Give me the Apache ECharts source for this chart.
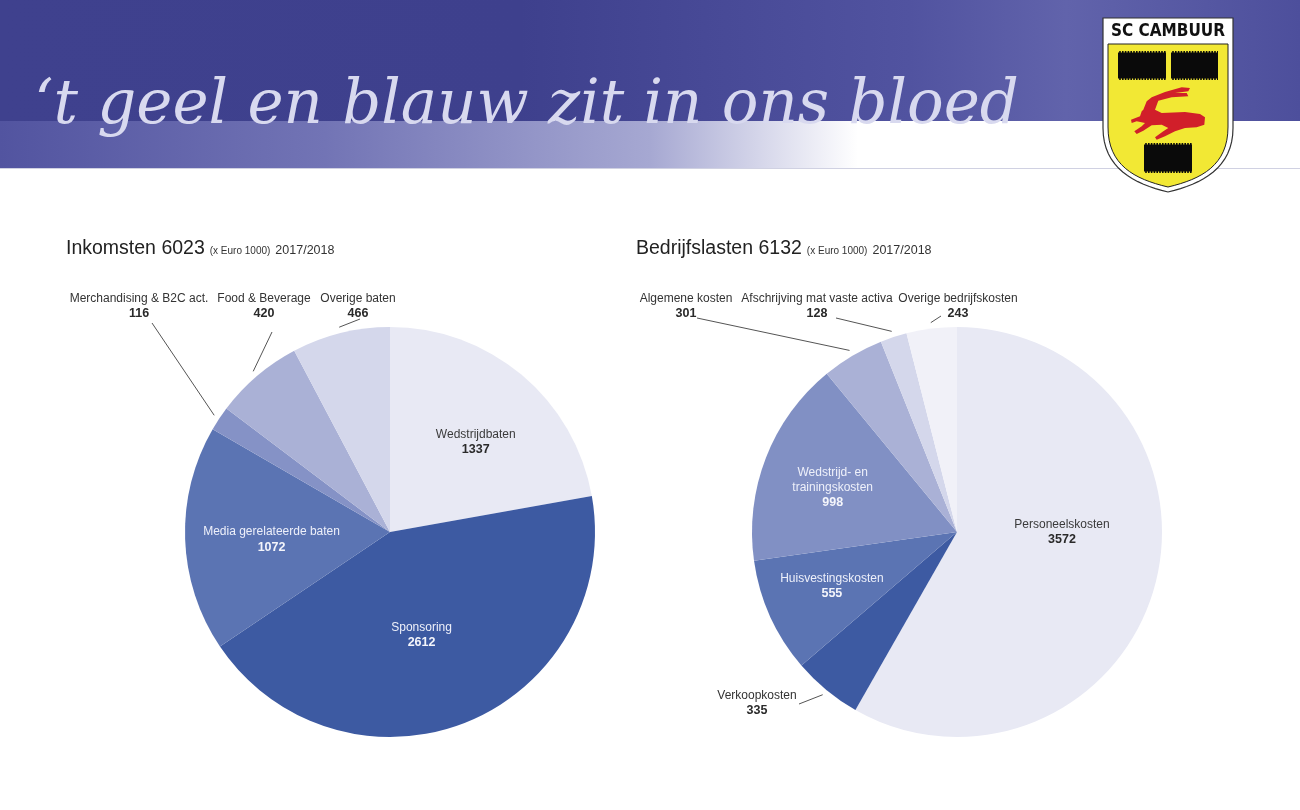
<!DOCTYPE html>
<html>
<head>
<meta charset="utf-8">
<script src="https://cdn.jsdelivr.net/npm/echarts@6/dist/echarts.min.js"></script>
<style>
html,body{margin:0;padding:0;background:#fff;}
#main{width:1300px;height:810px;}
</style>
</head>
<body>
<div id="main"></div>
<script>
// ---- data ----
const incomeNames = ['Wedstrijdbaten', 'Sponsoring', 'Media gerelateerde baten', 'Merchandising & B2C act.', 'Food & Beverage', 'Overige baten'];
const incomeValues = [1337, 2612, 1072, 116, 420, 466];
const costNames = ['Personeelskosten', 'Verkoopkosten', 'Huisvestingskosten', 'Wedstrijd- en trainingskosten', 'Algemene kosten', 'Afschrijving mat vaste activa', 'Overige bedrijfskosten'];
const costValues = [3572, 335, 555, 998, 301, 128, 243];
const incomeTitle = 'Inkomsten 6023';
const costTitle = 'Bedrijfslasten 6132';
const unitText = '(x Euro 1000)';
const yearText = '2017/2018';
const slogan = '\u2018t geel en blauw zit in ons bloed';

// ---- styles ----
const FONT = '"Liberation Sans", Arial, sans-serif';
const incomeColors = ['#E8E9F4', '#3D5AA2', '#5B74B3', '#8592C6', '#AAB1D6', '#D4D7EB'];
const costColors = ['#E8E9F4', '#3D5AA2', '#5B74B3', '#8190C4', '#AAB1D6', '#D4D7EB', '#F1F1F8'];
const incomeLabelColors = ['#3a3a3a', '#EEF0FA', '#EEF0FA', '#333', '#333', '#333'];
const costLabelColors = ['#3a3a3a', '#333', '#EEF0FA', '#EEF0FA', '#333', '#333', '#333'];
const incomeOutside = [false, false, false, true, true, true];
const costOutside = [false, true, false, false, true, true, true];

const C1 = [390, 532], C2 = [957, 532], R = 205;
const incomeOuterPos = {
  3: {x: 139, y: 291, end: [152, 323]},
  4: {x: 264, y: 291, end: [272, 332]},
  5: {x: 358, y: 291, end: [360, 319]}
};
const incomeInnerShift = {0: [18, -9], 1: [-8, 5], 2: [-13, 4]};
const costOuterPos = {
  1: {x: 757, y: 688, end: [799, 704]},
  4: {x: 686, y: 291, end: [697, 318]},
  5: {x: 817, y: 291, end: [836, 318]},
  6: {x: 958, y: 291, end: [941, 316]}
};
const costInnerShift = {0: [3, -27], 2: [-29, 11], 3: [-26, -6]};

function fmt(p) {
  const parts = p.name.replace('- en ', '- en\n').split('\n');
  return parts.map(s => '{n|' + s + '}').join('\n') + '\n{v|' + p.value + '}';
}
function makeData(names, values, colors, labelColors, outside) {
  return names.map((n, i) => {
    const dark = labelColors[i] === '#333' || labelColors[i] === '#3a3a3a';
    return {
      name: n,
      value: values[i],
      itemStyle: {color: colors[i]},
      label: {
        position: outside[i] ? 'outside' : 'inside',
        rich: {
          n: {fontSize: 12, color: labelColors[i], fontFamily: FONT, lineHeight: 15},
          v: {fontSize: 12.5, fontWeight: 'bold', color: dark ? '#2a2a2a' : '#F4F5FB', fontFamily: FONT, lineHeight: 15}
        }
      },
      labelLine: {show: outside[i]}
    };
  });
}
function layoutFn(posMap, shiftMap, center) {
  return function (params) {
    const p = posMap[params.dataIndex];
    if (!p) {
      const s = shiftMap[params.dataIndex];
      return s ? {dx: s[0], dy: s[1]} : {};
    }
    const pts = params.labelLinePoints;
    let start = pts ? pts[0] : p.end;
    const dx = start[0] - center[0], dy = start[1] - center[1];
    const d = Math.sqrt(dx * dx + dy * dy) || 1;
    start = [center[0] + dx / d * (R + 6), center[1] + dy / d * (R + 6)];
    return {x: p.x, y: p.y, align: 'center', verticalAlign: 'top', labelLinePoints: [start, p.end, p.end]};
  };
}

// shield outline helper (samples cubic curves into polygon points)
function shieldPts(x0, x1, yTop, ySide, yTip, k) {
  const cx = (x0 + x1) / 2, pts = [[x0, yTop], [x1, yTop], [x1, ySide]];
  const bez = (p0, p1, p2, p3, t) => {
    const u = 1 - t;
    return [u*u*u*p0[0] + 3*u*u*t*p1[0] + 3*u*t*t*p2[0] + t*t*t*p3[0],
            u*u*u*p0[1] + 3*u*u*t*p1[1] + 3*u*t*t*p2[1] + t*t*t*p3[1]];
  };
  for (let i = 1; i <= 16; i++) pts.push(bez([x1, ySide], [x1, ySide + k * 40], [cx + 34, yTip - 8], [cx, yTip], i / 16));
  for (let i = 1; i <= 16; i++) pts.push(bez([cx, yTip], [cx - 34, yTip - 8], [x0, ySide + k * 40], [x0, ySide], i / 16));
  return pts;
}
const deerPts = [[1143.3,109.7],[1146.7,101.3],[1151.7,97.3],[1165,92],[1181.7,87.3],[1190,88],[1188.3,91.3],[1175,93],[1186.7,93],[1188.3,96.3],[1171.7,97.3],[1158.3,100.7],[1155,109.7],[1161.7,113],[1185,112],[1200,114],[1205,117.3],[1204.3,124.7],[1196.7,127.3],[1185,128],[1175,131.3],[1165,136.3],[1156.7,139.7],[1155,137.3],[1163.3,131.3],[1168.3,128],[1161.7,124.7],[1151.7,125.3],[1143.3,130.7],[1136.7,134],[1134.3,131.3],[1141.7,126.3],[1145,123],[1136.7,121.3],[1131.7,123],[1131,119.7],[1140,116.3],[1141.7,111.3]];
const blocks = [[1118, 51, 48, 29], [1171, 51, 47, 29], [1144, 143, 48, 30]];

const titleRich = {
  a: {fontSize: 19.5, color: '#222', fontFamily: FONT, fontWeight: 'normal'},
  b: {fontSize: 10, color: '#333', fontFamily: FONT, fontWeight: 'normal', padding: [4, 0, 0, 0]},
  c: {fontSize: 12.5, color: '#333', fontFamily: FONT, fontWeight: 'normal', padding: [3, 0, 0, 0]}
};

const logoBlocks = [];
blocks.forEach(b => {
  logoBlocks.push({type: 'rect', z: 12, shape: {x: b[0], y: b[1], width: b[2], height: b[3]}, style: {fill: '#0a0a0a'}});
  logoBlocks.push({type: 'line', z: 13, shape: {x1: b[0], y1: b[1] + 0.8, x2: b[0] + b[2], y2: b[1] + 0.8}, style: {stroke: '#F2E834', lineWidth: 1.6, lineDash: [1.2, 1.6]}});
  logoBlocks.push({type: 'line', z: 13, shape: {x1: b[0], y1: b[1] + b[3] - 0.8, x2: b[0] + b[2], y2: b[1] + b[3] - 0.8}, style: {stroke: '#F2E834', lineWidth: 1.6, lineDash: [1.2, 1.6]}});
});

const chart = echarts.init(document.getElementById('main'));
chart.setOption({
  backgroundColor: '#ffffff',
  animation: false,
  title: [
    {text: '{a|' + incomeTitle + '} {b|' + unitText + '} {c|' + yearText + '}', left: 61, top: 234, textStyle: {fontWeight: 'normal', rich: titleRich}},
    {text: '{a|' + costTitle + '} {b|' + unitText + '} {c|' + yearText + '}', left: 631, top: 234, textStyle: {fontWeight: 'normal', rich: titleRich}}
  ],
  graphic: [
    {type: 'rect', z: -10, shape: {x: 0, y: 0, width: 1300, height: 121},
      style: {fill: new echarts.graphic.LinearGradient(0, 0, 1, 0, [
        {offset: 0, color: '#3F418E'}, {offset: 0.4, color: '#3E408D'}, {offset: 0.7, color: '#5153A0'}, {offset: 0.82, color: '#6163AB'}, {offset: 1, color: '#4D4F9C'}])}},
    {type: 'rect', z: -10, shape: {x: 0, y: 121, width: 1300, height: 47},
      style: {fill: new echarts.graphic.LinearGradient(0, 0, 1, 0, [
        {offset: 0, color: '#5254A0'}, {offset: 0.25, color: '#7274B5'}, {offset: 0.5, color: '#A6A8D2'}, {offset: 0.66, color: '#FFFFFF'}, {offset: 1, color: '#FFFFFF'}])}},
    {type: 'line', z: -9, shape: {x1: 0, y1: 168.5, x2: 1300, y2: 168.5}, style: {stroke: '#D0D1E2', lineWidth: 1}},
    {type: 'text', z: 5, x: 34, y: 138,
      style: {text: slogan, fill: '#D8D9EF', font: 'italic 61px "DejaVu Serif"', textVerticalAlign: 'bottom'}},
    {type: 'polygon', z: 10, shape: {points: shieldPts(1103, 1233, 18, 128, 192, 1)},
      style: {fill: '#FFFFFF', stroke: '#333', lineWidth: 1.2}},
    {type: 'polygon', z: 11, shape: {points: shieldPts(1108, 1228, 44, 127, 187, 0.95)},
      style: {fill: '#F2E834', stroke: '#222', lineWidth: 1}},
    {type: 'text', z: 12, x: 1168, y: 32,
      style: {text: 'SC CAMBUUR', fill: '#111', font: 'bold 17px "Liberation Sans Narrow", "DejaVu Sans Condensed", sans-serif', textAlign: 'center', textVerticalAlign: 'middle'}},
    ...logoBlocks,
    {type: 'polygon', z: 12, shape: {points: deerPts}, style: {fill: '#D11F2A'}}
  ],
  series: [
    {
      type: 'pie', center: C1, radius: [0, R], startAngle: 90, clockwise: true,
      avoidLabelOverlap: false, silent: true,
      label: {show: true, formatter: fmt, align: 'center'},
      labelLine: {lineStyle: {color: '#555', width: 1}, length: 10, length2: 10},
      labelLayout: layoutFn(incomeOuterPos, incomeInnerShift, C1),
      data: makeData(incomeNames, incomeValues, incomeColors, incomeLabelColors, incomeOutside)
    },
    {
      type: 'pie', center: C2, radius: [0, R], startAngle: 90, clockwise: true,
      avoidLabelOverlap: false, silent: true,
      label: {show: true, formatter: fmt, align: 'center'},
      labelLine: {lineStyle: {color: '#555', width: 1}, length: 10, length2: 10},
      labelLayout: layoutFn(costOuterPos, costInnerShift, C2),
      data: makeData(costNames, costValues, costColors, costLabelColors, costOutside)
    }
  ]
});
</script>
</body>
</html>
